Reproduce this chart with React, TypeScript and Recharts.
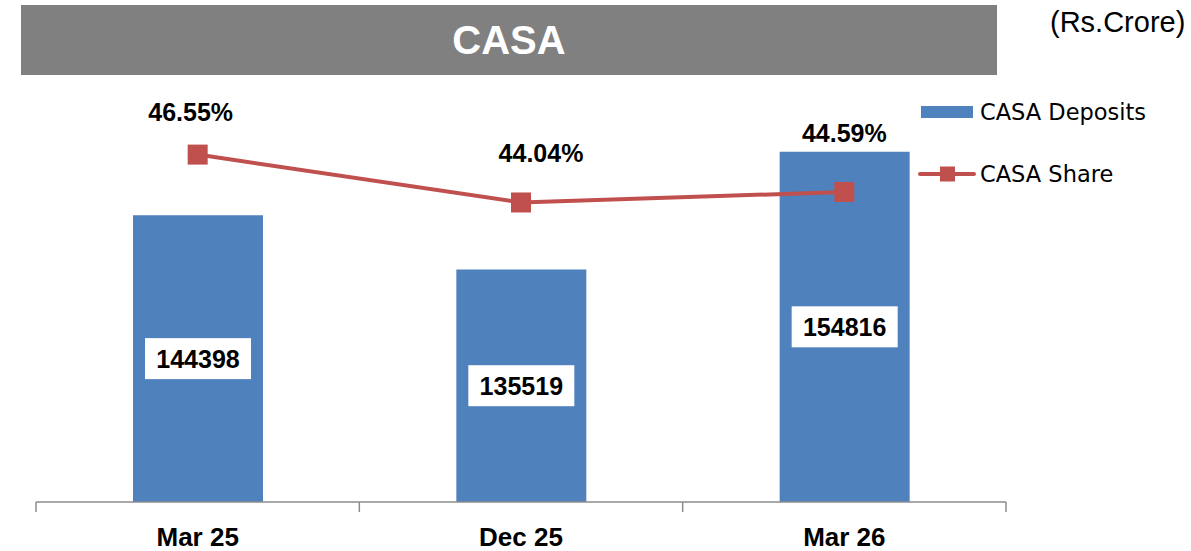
import { ComposedChart, Bar, Line, XAxis, YAxis, LabelList } from "recharts";

const CATEGORIES = ["Mar 25", "Dec 25", "Mar 26"];
const CASA_DEPOSITS = [144398, 135519, 154816];
const CASA_SHARE = [46.55, 44.04, 44.59];

const BAR_COLOR = "#4f81bd";
const LINE_COLOR = "#c0504d";
const FONT = "'Liberation Sans', Arial, sans-serif";
const LEGEND_FONT = "'DejaVu Sans', sans-serif";

const PLOT_LEFT = 36;
const PLOT_RIGHT = 1006;
const BAND = (PLOT_RIGHT - PLOT_LEFT) / CATEGORIES.length;

// label offsets for the share labels, relative to each point
const SHARE_LABEL_NUDGE = [
  { dx: -7, dy: -43 },
  { dx: 20, dy: -49 },
  { dx: 0, dy: -59 },
];

const data = CATEGORIES.map((name, i) => ({
  name,
  deposits: CASA_DEPOSITS[i],
  share: CASA_SHARE[i],
}));

function XTick(props: any) {
  const { x, y, payload, index } = props;
  const last = index === CATEGORIES.length - 1;
  return (
    <g>
      <line x1={x - BAND / 2} y1={y} x2={x - BAND / 2} y2={y + 10} stroke="#8c8c8c" strokeWidth={1.5} />
      {last && (
        <line x1={x + BAND / 2} y1={y} x2={x + BAND / 2} y2={y + 10} stroke="#8c8c8c" strokeWidth={1.5} />
      )}
      <text x={x} y={y + 44} textAnchor="middle" fontFamily={FONT} fontWeight="bold" fontSize={26} fill="#000">
        {payload.value}
      </text>
    </g>
  );
}

function BarValueLabel(props: any) {
  const { x, y, width, height, value } = props;
  const cx = x + width / 2;
  const cy = y + height / 2;
  return (
    <g>
      <rect x={cx - 53} y={cy - 20.5} width={106} height={41} fill="#fff" />
      <text x={cx} y={cy + 9} textAnchor="middle" fontFamily={FONT} fontWeight="bold" fontSize={25} fill="#000">
        {value}
      </text>
    </g>
  );
}

function ShareLabel(props: any) {
  const { x, y, value, index } = props;
  const n = SHARE_LABEL_NUDGE[index] || { dx: 0, dy: -45 };
  return (
    <text x={x + n.dx} y={y + n.dy + 9} textAnchor="middle" fontFamily={FONT} fontWeight="bold" fontSize={25} fill="#000">
      {value.toFixed(2)}%
    </text>
  );
}

function SquareDot(props: any) {
  const { cx, cy, index } = props;
  return <rect key={"dot-" + index} x={cx - 10} y={cy - 10} width={20} height={20} fill={LINE_COLOR} />;
}

function ChartLegend() {
  return (
    <svg width={270} height={100} style={{ position: "absolute", left: 915, top: 95 }}>
      <rect x={6} y={11} width={52} height={12} fill={BAR_COLOR} />
      <text x={65} y={25} fontFamily={LEGEND_FONT} fontSize={22.5} fill="#000">
        CASA Deposits
      </text>
      <line x1={5} y1={79} x2={59} y2={79} stroke={LINE_COLOR} strokeWidth={4} strokeLinecap="round" />
      <rect x={25} y={71.5} width={15} height={15} fill={LINE_COLOR} />
      <text x={65} y={87} fontFamily={LEGEND_FONT} fontSize={22.5} fill="#000">
        CASA Share
      </text>
    </svg>
  );
}

export default function App() {
  return (
    <div style={{ position: "absolute", left: 0, top: 0, width: 1191, height: 551, background: "#fff" }}>
      <div
        style={{
          position: "absolute",
          left: 21,
          top: 5,
          width: 976,
          height: 70,
          background: "#808080",
          color: "#fff",
          fontFamily: FONT,
          fontWeight: "bold",
          fontSize: 40,
          lineHeight: "70px",
          textAlign: "center",
        }}
      >
        CASA
      </div>
      <div
        style={{
          position: "absolute",
          left: 1050,
          top: 6,
          fontFamily: FONT,
          fontSize: 29,
          lineHeight: "32px",
          color: "#000",
        }}
      >
        (Rs.Crore)
      </div>
      <div style={{ position: "absolute", left: 0, top: 0 }}>
        <ComposedChart
          width={1191}
          height={551}
          data={data}
          margin={{ top: 80, right: 1191 - PLOT_RIGHT, bottom: 0, left: PLOT_LEFT }}
        >
          <XAxis
            dataKey="name"
            height={49}
            axisLine={{ stroke: "#8c8c8c", strokeWidth: 1.5 }}
            tickLine={false}
            tickSize={0}
            tickMargin={0}
            tick={<XTick />}
            interval={0}
          />
          <YAxis yAxisId="bar" hide domain={[97400, 166560]} allowDataOverflow />
          <YAxis yAxisId="line" orientation="right" hide domain={[28.34, 50.46]} allowDataOverflow />
          <Bar yAxisId="bar" dataKey="deposits" name="CASA Deposits" fill={BAR_COLOR} barSize={130} isAnimationActive={false}>
            <LabelList dataKey="deposits" content={<BarValueLabel />} />
          </Bar>
          <Line
            yAxisId="line"
            type="linear"
            dataKey="share"
            name="CASA Share"
            stroke={LINE_COLOR}
            strokeWidth={4}
            dot={SquareDot}
            activeDot={false}
            isAnimationActive={false}
          >
            <LabelList dataKey="share" content={<ShareLabel />} />
          </Line>
        </ComposedChart>
      </div>
      <ChartLegend />
    </div>
  );
}
